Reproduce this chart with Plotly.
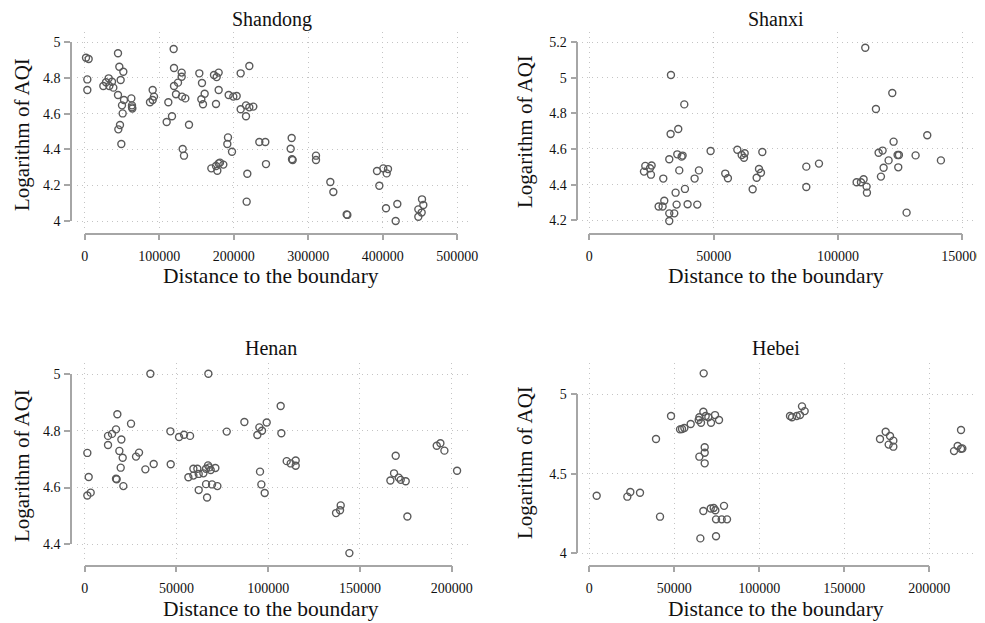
import plotly.graph_objects as go

# ---------------- data ----------------
shandong_x = [1740, 5320, 3530, 3530, 25000, 28580, 32160, 33050, 36630, 38420,
              44680, 46470, 51840, 48260, 44680, 52730, 50050, 50940, 47360, 45130, 49150,
              62570, 63460, 63460, 63900, 91200, 93000, 91200, 87620,
              119380, 119830, 130120, 130120, 125200, 119830, 122510, 130570, 135040, 112220,
              117140, 110000, 139960, 131470, 133250, 153820, 157400, 160980, 156500, 158740,
              173500, 177090, 179770, 179770, 176200, 193190, 199450, 203930,
              209290, 220920, 209290, 216450, 220920, 226290, 216450, 192300, 191400, 197660,
              169930, 176200, 179770, 181560, 177980, 186030, 218230, 217340,
              234330, 242380, 243280, 277730, 276390, 278180, 279070, 310390, 310390,
              329620, 333650, 351540, 352440, 392240, 400740, 407000, 405220, 395370,
              404320, 419530, 417300, 452630, 454410, 447700, 452180, 447700]
shandong_y = [4.912, 4.905, 4.791, 4.732, 4.754, 4.775, 4.797, 4.754, 4.778, 4.745,
              4.937, 4.862, 4.834, 4.788, 4.704, 4.676, 4.646, 4.601, 4.536, 4.512, 4.430,
              4.685, 4.646, 4.635, 4.628, 4.732, 4.695, 4.676, 4.663,
              4.961, 4.855, 4.829, 4.806, 4.773, 4.754, 4.708, 4.695, 4.685, 4.663,
              4.585, 4.553, 4.538, 4.402, 4.365, 4.825, 4.771, 4.711, 4.680, 4.652,
              4.816, 4.804, 4.829, 4.732, 4.654, 4.704, 4.695, 4.698,
              4.825, 4.866, 4.624, 4.646, 4.635, 4.639, 4.585, 4.467, 4.430, 4.387,
              4.294, 4.307, 4.322, 4.326, 4.281, 4.315, 4.264, 4.108,
              4.441, 4.441, 4.318, 4.464, 4.404, 4.345, 4.341, 4.365, 4.341,
              4.218, 4.162, 4.037, 4.034, 4.279, 4.294, 4.290, 4.266, 4.197,
              4.071, 4.095, 4.000, 4.121, 4.089, 4.065, 4.047, 4.024]

shanxi_x = [32840, 38200, 35780, 32700, 48780, 35380, 37120, 37520, 32160, 36180,
            44090, 22520, 25060, 24390, 21980, 24790, 29750, 42350, 38460, 34710,
            30150, 27880, 29480, 35110, 39530, 43420, 32160, 34170, 32160, 54670, 55750,
            59530, 61270, 62480, 62210, 69580, 68240, 69040, 67300, 65690,
            87270, 92360, 87270, 110980, 121840, 115270, 135910, 122370,
            116340, 117950, 123980, 124520, 131220, 120360, 141400, 118350, 124250, 117280,
            107500, 109240, 110310, 111520, 111650, 127600]
shanxi_y = [5.015, 4.850, 4.712, 4.684, 4.589, 4.570, 4.557, 4.563, 4.542, 4.480,
            4.480, 4.505, 4.507, 4.492, 4.473, 4.456, 4.434, 4.434, 4.376, 4.355,
            4.310, 4.277, 4.277, 4.288, 4.290, 4.288, 4.239, 4.239, 4.196, 4.462, 4.436,
            4.596, 4.566, 4.576, 4.551, 4.583, 4.488, 4.467, 4.439, 4.374,
            4.501, 4.518, 4.387, 5.168, 4.914, 4.824, 4.677, 4.641,
            4.579, 4.591, 4.566, 4.566, 4.564, 4.536, 4.536, 4.495, 4.497, 4.445,
            4.413, 4.413, 4.430, 4.389, 4.355, 4.243]

henan_x = [1440, 2170, 1440, 3260, 12710, 12710, 14890, 17070, 17800,
           19980, 18890, 20710, 19620, 17070, 17430, 21070, 25250, 27970, 29610,
           33060, 37600, 35790, 46690, 46870, 51410, 54140, 57410, 56500, 59230,
           59230, 61400, 62130, 62130, 64680, 66130, 67220, 67950, 68670, 71210,
           66130, 69400, 72310, 66680, 67400, 77400, 87020,
           94090, 95180, 96630, 99180, 95540, 96270, 98090,
           106800, 107170, 110080, 112260, 114980, 114980,
           136970, 139150, 139510, 144240,
           169490, 168580, 166590, 171130, 172220, 174940, 175850,
           191840, 193840, 196020, 202930]
henan_y = [4.722, 4.637, 4.572, 4.582, 4.750, 4.782, 4.789, 4.805, 4.858,
           4.769, 4.729, 4.705, 4.670, 4.631, 4.629, 4.605, 4.825, 4.709, 4.723,
           4.664, 4.683, 5.001, 4.798, 4.682, 4.778, 4.786, 4.782, 4.636, 4.642,
           4.666, 4.666, 4.648, 4.591, 4.650, 4.666, 4.678, 4.671, 4.662, 4.669,
           4.612, 4.611, 4.605, 4.565, 5.001, 4.797, 4.831,
           4.785, 4.812, 4.800, 4.829, 4.656, 4.611, 4.581,
           4.887, 4.791, 4.693, 4.685, 4.695, 4.677,
           4.510, 4.520, 4.537, 4.369,
           4.712, 4.650, 4.625, 4.635, 4.627, 4.622, 4.498,
           4.747, 4.756, 4.730, 4.659]

hebei_x = [4340, 22380, 24140, 29830, 41600, 39240, 48070, 53360, 54540, 55910,
           59640, 64350, 64740, 65720, 67090, 67290, 68460, 70030, 71600, 73950,
           76310, 67880, 67880, 64740, 67880, 67090, 71410, 73170, 74150, 79250,
           74540, 77880, 81020, 65330, 74540,
           118060, 119230, 121980, 123940, 125120, 126690,
           171000, 174340, 176890, 178850, 176100, 178850,
           214540, 216690, 218660, 219440, 218660]
hebei_y = [4.361, 4.355, 4.384, 4.380, 4.229, 4.718, 4.863, 4.779, 4.781, 4.788,
           4.813, 4.838, 4.855, 4.821, 4.890, 5.132, 4.863, 4.855, 4.821, 4.869,
           4.838, 4.666, 4.632, 4.607, 4.565, 4.265, 4.280, 4.284, 4.269, 4.297,
           4.212, 4.212, 4.212, 4.092, 4.106,
           4.863, 4.855, 4.863, 4.869, 4.924, 4.894,
           4.718, 4.764, 4.737, 4.708, 4.683, 4.670,
           4.642, 4.674, 4.657, 4.659, 4.775]

panel_titles = ["Shandong", "Shanxi", "Henan", "Hebei"]
x_title = "Distance to the boundary"
y_title = "Logarithm of AQI"

shandong_xticks = [0, 100000, 200000, 300000, 400000, 500000]
shandong_yticks = [4, 4.2, 4.4, 4.6, 4.8, 5]
shanxi_xticks = [0, 50000, 100000, 150000]
shanxi_yticks = [4.2, 4.4, 4.6, 4.8, 5, 5.2]
henan_xticks = [0, 50000, 100000, 150000, 200000]
henan_yticks = [4.4, 4.6, 4.8, 5]
hebei_xticks = [0, 50000, 100000, 150000, 200000]
hebei_yticks = [4, 4.5, 5]

series = [
    (shandong_x, shandong_y, shandong_xticks, shandong_yticks),
    (shanxi_x, shanxi_y, shanxi_xticks, shanxi_yticks),
    (henan_x, henan_y, henan_xticks, henan_yticks),
    (hebei_x, hebei_y, hebei_xticks, hebei_yticks),
]

# ---------------- layout geometry (window pixels) ----------------
WIN_W, WIN_H = 985, 623
OFF = 8                      # default body margin of the html page
FW, FH = WIN_W - OFF, WIN_H - OFF

geom = [
    dict(xt=(84.7, 457.3), yt=(221.0, 42.0), reg=(77, 468, 229, 32), xline=232.5, yline=72,
         title=(272, 19), xtitle=(270.7, 276), ytitle=(22, 135)),
    dict(xt=(589.3, 962.3), yt=(220.3, 42.0), reg=(581.7, 973, 229, 32), xline=232.5, yline=578.3,
         title=(776, 19), xtitle=(775.5, 276), ytitle=(525, 132)),
    dict(xt=(84.7, 451.7), yt=(544.3, 374.0), reg=(77, 468.3, 563, 363.3), xline=564.5, yline=72,
         title=(270.5, 347.5), xtitle=(270.7, 608.5), ytitle=(22, 466)),
    dict(xt=(589.3, 929.3), yt=(553.0, 394.3), reg=(581.7, 973, 563, 363.3), xline=564.5, yline=578.3,
         title=(776, 347.5), xtitle=(775.5, 608.5), ytitle=(525, 463)),
]

FONT = "Liberation Serif"
GRID = "#c4c4c4"
AXC = "#a6a6a6"
MARK = "#5a5a5a"
TXT = "#111111"


def lin(t0, t1, p0, p1, q):
    return t0 + (q - p0) * (t1 - t0) / (p1 - p0)


def fx(px):
    return (px - OFF) / FW


def fy(py):
    return 1 - (py - OFF) / FH


def nm(a, n):
    return a + ("" if n == 1 else str(n))


fig = go.Figure()
layout = dict(
    template="none",
    width=FW, height=FH,
    margin=dict(l=0, r=0, t=0, b=0, pad=0, autoexpand=False),
    paper_bgcolor="white", plot_bgcolor="rgba(0,0,0,0)",
    showlegend=False,
    font=dict(family=FONT, color=TXT),
)
annotations = []

for k, ((xs, ys, xt, yt), g) in enumerate(zip(series, geom)):
    n1, n2, n3 = 3 * k + 1, 3 * k + 2, 3 * k + 3
    L, R, B, T = g["reg"]
    x0, x1 = xt[0], xt[-1]
    y0, y1 = yt[0], yt[-1]
    xr = [lin(x0, x1, g["xt"][0], g["xt"][1], L), lin(x0, x1, g["xt"][0], g["xt"][1], R)]
    yr = [lin(y0, y1, g["yt"][0], g["yt"][1], B), lin(y0, y1, g["yt"][0], g["yt"][1], T)]

    # data subplot with dotted grid
    layout[nm("xaxis", n1)] = dict(domain=[fx(L), fx(R)], range=xr, anchor=nm("y", n1),
                                   tickvals=xt, showticklabels=False, ticks="",
                                   showgrid=True, gridcolor=GRID, griddash="1px,4px", gridwidth=1,
                                   zeroline=False, showline=False, automargin=False)
    layout[nm("yaxis", n1)] = dict(domain=[fy(B), fy(T)], range=yr, anchor=nm("x", n1),
                                   tickvals=yt, showticklabels=False, ticks="",
                                   showgrid=True, gridcolor=GRID, griddash="1px,4px", gridwidth=1,
                                   zeroline=False, showline=False, automargin=False)
    fig.add_trace(go.Scatter(x=xs, y=ys, mode="markers", xaxis=nm("x", n1), yaxis=nm("y", n1),
                             marker=dict(symbol="circle-open", size=7, color=MARK,
                                         line=dict(width=1.4, color=MARK)),
                             hoverinfo="x+y", name=panel_titles[k]))

    # offset x axis (Stata style, spanning first to last tick)
    ex = (x1 - x0) * 1e-6
    layout[nm("xaxis", n2)] = dict(domain=[fx(g["xt"][0]), fx(g["xt"][1])], range=[x0 - ex, x1 + ex],
                                   anchor=nm("y", n2), showline=True, linecolor=AXC, linewidth=1.5,
                                   ticks="outside", ticklen=6, tickwidth=1.5, tickcolor=AXC,
                                   tickvals=xt, ticktext=[f"{v:g}" for v in xt],
                                   tickfont=dict(family=FONT, size=14, color=TXT),
                                   ticklabelstandoff=4, ticklabeloverflow="allow",
                                   showgrid=False, zeroline=False, automargin=False)
    layout[nm("yaxis", n2)] = dict(domain=[fy(g["xline"]), fy(g["xline"]) + 0.01], range=[0, 1],
                                   anchor=nm("x", n2), visible=False, automargin=False)
    fig.add_trace(go.Scatter(x=[], y=[], xaxis=nm("x", n2), yaxis=nm("y", n2), hoverinfo="skip"))

    # offset y axis
    ey = (y1 - y0) * 1e-6
    layout[nm("yaxis", n3)] = dict(domain=[fy(g["yt"][0]), fy(g["yt"][1])], range=[y0 - ey, y1 + ey],
                                   anchor=nm("x", n3), showline=True, linecolor=AXC, linewidth=1.5,
                                   ticks="outside", ticklen=6, tickwidth=1.5, tickcolor=AXC,
                                   tickvals=yt, ticktext=[f"{v:g}" for v in yt],
                                   tickfont=dict(family=FONT, size=14, color=TXT),
                                   ticklabelstandoff=1, ticklabeloverflow="allow",
                                   showgrid=False, zeroline=False, automargin=False)
    layout[nm("xaxis", n3)] = dict(domain=[fx(g["yline"]), fx(g["yline"]) + 0.01], range=[0, 1],
                                   anchor=nm("y", n3), visible=False, automargin=False)
    fig.add_trace(go.Scatter(x=[], y=[], xaxis=nm("x", n3), yaxis=nm("y", n3), hoverinfo="skip"))

    annotations.append(dict(text=panel_titles[k], x=fx(g["title"][0]), y=fy(g["title"][1]),
                            xref="paper", yref="paper", xanchor="center", yanchor="middle",
                            showarrow=False, font=dict(family=FONT, size=20, color=TXT)))
    annotations.append(dict(text=x_title, x=fx(g["xtitle"][0]), y=fy(g["xtitle"][1]),
                            xref="paper", yref="paper", xanchor="center", yanchor="middle",
                            showarrow=False, font=dict(family=FONT, size=21.5, color=TXT)))
    annotations.append(dict(text=y_title, x=fx(g["ytitle"][0]), y=fy(g["ytitle"][1]),
                            xref="paper", yref="paper", xanchor="center", yanchor="middle",
                            textangle=-90, showarrow=False,
                            font=dict(family=FONT, size=21, color=TXT)))

layout["annotations"] = annotations
fig.update_layout(**layout)
fig.write_html("out.html")
